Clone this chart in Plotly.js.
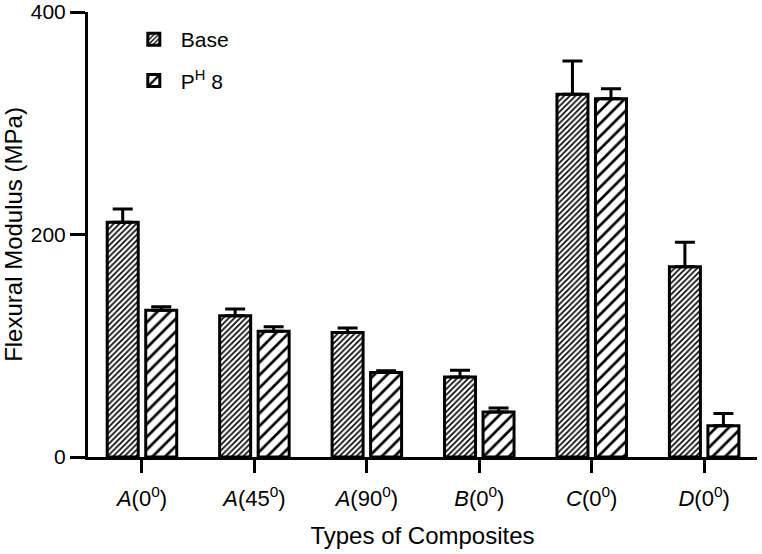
<!DOCTYPE html>
<html>
<head>
<meta charset="utf-8">
<script src="https://cdn.plot.ly/plotly-3.0.1.min.js"></script>
<style>html,body{margin:0;padding:0;background:#fff;}#chart{width:762px;height:554px;}</style>
</head>
<body>
<div id="chart"></div>
<script>
const categories = ["<i>A</i>(0<sup>0</sup>)", "<i>A</i>(45<sup>0</sup>)", "<i>A</i>(90<sup>0</sup>)", "<i>B</i>(0<sup>0</sup>)", "<i>C</i>(0<sup>0</sup>)", "<i>D</i>(0<sup>0</sup>)"];
const baseValues = [211, 127, 112, 72, 326, 171];
const baseErrors = [12, 6, 4, 6, 30, 22];
const ph8Values = [132, 113, 76, 40.5, 322, 28];
const ph8Errors = [3, 4, 1.5, 3.5, 9, 11];
const seriesNames = ["Base", "P<sup>H</sup> 8"];
const yTicks = [0, 200, 400];

const font = "Liberation Sans, Arial, sans-serif";
const zeros = categories.map(() => 0);

const traces = [
  {
    type: "bar", name: seriesNames[0], x: categories, y: baseValues, legendgroup: "a",
    marker: {color: "white", line: {color: "black", width: 3},
      pattern: {shape: "/", size: 4, solidity: 0.4, fgcolor: "black", bgcolor: "white"}},
    error_y: {type: "data", array: baseErrors, arrayminus: zeros, symmetric: false,
      color: "black", thickness: 3, width: 10}
  },
  {
    type: "bar", name: seriesNames[1], x: categories, y: ph8Values, legendgroup: "b",
    marker: {color: "white", line: {color: "black", width: 3},
      pattern: {shape: "/", size: 9, solidity: 0.3, fgcolor: "black", bgcolor: "white"}},
    error_y: {type: "data", array: ph8Errors, arrayminus: zeros, symmetric: false,
      color: "black", thickness: 3, width: 10}
  }
];

const layout = {
  width: 762, height: 554,
  margin: {l: 88, r: 5, t: 12, b: 97},
  paper_bgcolor: "white", plot_bgcolor: "white",
  font: {family: font, color: "black", size: 20},
  barmode: "group", bargap: 0.315, bargroupgap: 0.195,
  showlegend: true,
  legend: {x: 0.058, y: 0.984, xanchor: "left", yanchor: "top", bgcolor: "rgba(0,0,0,0)",
    font: {family: font, size: 21, color: "black"}, tracegroupgap: 11, traceorder: "grouped",
    itemwidth: 44},
  xaxis: {
    type: "category", range: [-0.48, 5.47], showline: true, linecolor: "black", linewidth: 3,
    ticks: "outside", ticklen: 13, tickwidth: 3, tickcolor: "black", showgrid: false, zeroline: false,
    ticklabelstandoff: 7,
    tickfont: {family: font, size: 22, color: "black"},
    title: {text: "Types of Composites", font: {family: font, size: 24, color: "black"}, standoff: 17}
  },
  yaxis: {
    range: [0, 400], tickvals: yTicks, ticktext: yTicks.map(String), showline: true, linecolor: "black", linewidth: 3,
    ticks: "outside", ticklen: 15, tickwidth: 3, tickcolor: "black", showgrid: false, zeroline: false,
    tickfont: {family: font, size: 21, color: "black"},
    title: {text: "Flexural Modulus (MPa)", font: {family: font, size: 24, color: "black"}, standoff: 10}
  }
};

Plotly.newPlot("chart", traces, layout, {staticPlot: true, displayModeBar: false});
</script>
</body>
</html>
